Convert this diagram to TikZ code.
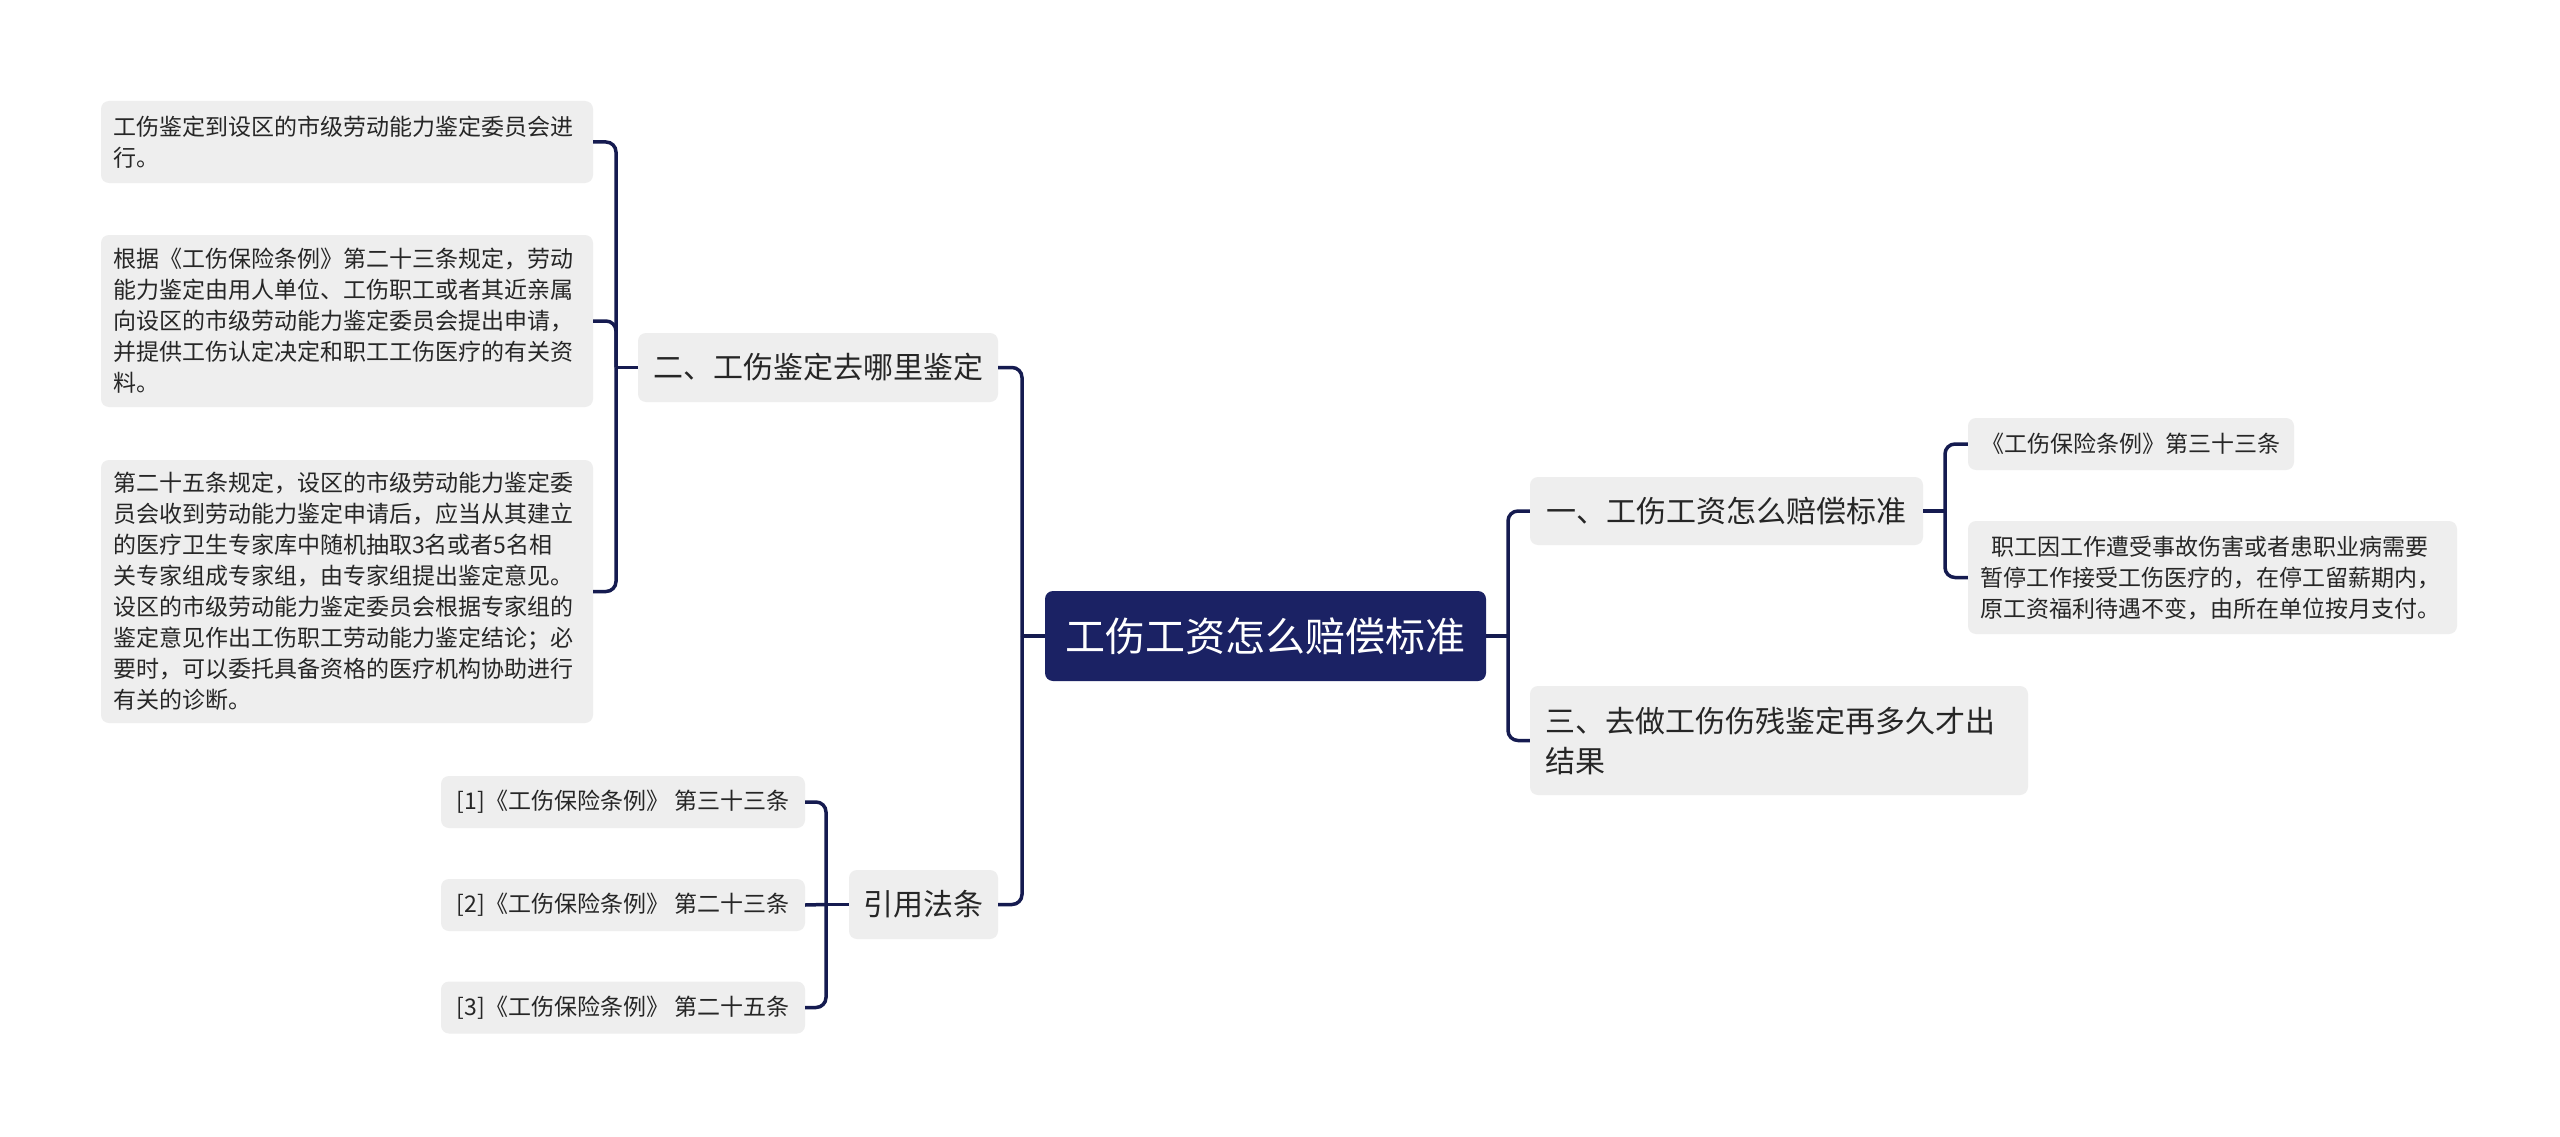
\documentclass[tikz,border=0pt]{standalone}
\usepackage{fontspec}
\newfontfamily\cjk{Noto Sans CJK SC}
\definecolor{navy}{HTML}{1B2264}
\definecolor{linenavy}{HTML}{151B50}
\definecolor{boxgray}{HTML}{EEEEEE}
\definecolor{textdark}{HTML}{262626}
\tikzset{
  box/.style={rectangle, rounded corners=8pt, fill=boxgray, text=textdark, inner xsep=12pt, inner ysep=0pt, align=left},
  small/.style={box, font=\cjk\fontsize{23}{31}\selectfont},
  mid/.style={box, font=\cjk\fontsize{30}{40}\selectfont},
  rootbox/.style={rectangle, rounded corners=8pt, fill=navy, text=white, font=\cjk\fontsize{40}{48}\selectfont, inner sep=0pt},
  conn/.style={draw=linenavy, line width=3.5pt, rounded corners=10pt},
}
\begin{document}
\begin{tikzpicture}[x=1pt,y=-1pt]
\useasboundingbox (0,0) rectangle (2560,1137);
\fill[white] (0,0) rectangle (2560,1137);

% root
\node[rootbox, minimum width=441pt, minimum height=90pt] (root) at (1265.5,636) {工伤工资怎么赔偿标准};

% first level
\node[mid, minimum width=360pt, minimum height=69pt] (n2) at (818,367.5) {二、工伤鉴定去哪里鉴定};
\node[mid, minimum width=149pt, minimum height=69pt] (n4) at (923.5,904.5) {引用法条};
\node[mid, minimum width=393pt, minimum height=68pt] (n1) at (1726.5,511) {一、工伤工资怎么赔偿标准};
\node[mid, text width=468pt, inner xsep=15pt, minimum height=109pt] (n3) at (1779,740.5) {三、去做工伤伤残鉴定再多久才出\\结果};

% left leaves
\node[small, text width=468pt, minimum height=82pt] (l1) at (347,142) {工伤鉴定到设区的市级劳动能力鉴定委员会进\\行。};
\node[small, text width=468pt, minimum height=172pt] (l2) at (347,321) {根据《工伤保险条例》第二十三条规定，劳动\\能力鉴定由用人单位、工伤职工或者其近亲属\\向设区的市级劳动能力鉴定委员会提出申请，\\并提供工伤认定决定和职工工伤医疗的有关资\\料。};
\node[small, text width=468pt, minimum height=263pt] (l3) at (347,591.5) {第二十五条规定，设区的市级劳动能力鉴定委\\员会收到劳动能力鉴定申请后，应当从其建立\\的医疗卫生专家库中随机抽取3名或者5名相\\关专家组成专家组，由专家组提出鉴定意见。\\设区的市级劳动能力鉴定委员会根据专家组的\\鉴定意见作出工伤职工劳动能力鉴定结论；必\\要时，可以委托具备资格的医疗机构协助进行\\有关的诊断。};

% citations
\node[small, minimum width=364pt, minimum height=52pt] (c1) at (623,802) {[1]《工伤保险条例》 第三十三条};
\node[small, minimum width=364pt, minimum height=52pt] (c2) at (623,905) {[2]《工伤保险条例》 第二十三条};
\node[small, minimum width=364pt, minimum height=52pt] (c3) at (623,1007.5) {[3]《工伤保险条例》 第二十五条};

% right leaves
\node[small, minimum width=326pt, minimum height=52pt] (r1) at (2131,444) {《工伤保险条例》第三十三条};
\node[small, text width=465pt, minimum height=113pt] (r2) at (2212.5,577.5) {\hspace*{11pt}职工因工作遭受事故伤害或者患职业病需要\\暂停工作接受工伤医疗的，在停工留薪期内，\\原工资福利待遇不变，由所在单位按月支付。};

% bus points
\coordinate (bR) at (1508,636);
\coordinate (bL) at (1022,636);
\coordinate (b2) at (616,367.5);
\coordinate (b4) at (826,904.5);
\coordinate (b1) at (1945,511);

% connectors
\draw[conn] (root.east) -- (bR);
\draw[conn] (bR) |- (n1.west);
\draw[conn] (bR) |- (n3.west);
\draw[conn] (root.west) -- (bL);
\draw[conn] (bL) |- (n2.east);
\draw[conn] (bL) |- (n4.east);

\draw[conn] (n2.west) -- (b2);
\draw[conn] (b2) |- (l1.east);
\draw[conn] (b2) |- (l2.east);
\draw[conn] (b2) |- (l3.east);

\draw[conn] (n4.west) -- (b4);
\draw[conn] (b4) |- (c1.east);
\draw[conn] (b4) -- (c2.east);
\draw[conn] (b4) |- (c3.east);

\draw[conn] (n1.east) -- (b1);
\draw[conn] (b1) |- (r1.west);
\draw[conn] (b1) |- (r2.west);
\end{tikzpicture}
\end{document}
